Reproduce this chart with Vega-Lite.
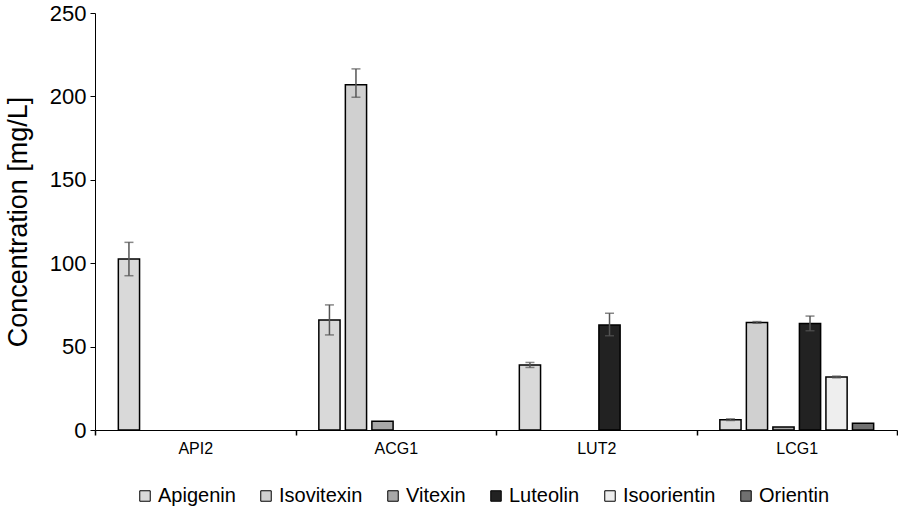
{
  "$schema": "https://vega.github.io/schema/vega-lite/v6.json",
  "width": 802,
  "height": 417,
  "autosize": "none",
  "padding": {"left": 95, "top": 13, "right": 1, "bottom": 82},
  "background": "white",
  "config": {
    "view": {"stroke": null},
    "font": "Liberation Sans",
    "axis": {"labelFont": "Liberation Sans", "titleFont": "Liberation Sans", "labelColor": "black", "titleColor": "black", "domainColor": "black", "tickColor": "black", "grid": false},
    "legend": {"labelFont": "Liberation Sans"}
  },
  "data": {
    "values": [
      {"group": "API2", "compound": "Apigenin", "value": 102.5, "lo": 92.5, "hi": 112.5},
      {"group": "ACG1", "compound": "Apigenin", "value": 66, "lo": 57, "hi": 75},
      {"group": "ACG1", "compound": "Isovitexin", "value": 207, "lo": 199.5, "hi": 216.5},
      {"group": "ACG1", "compound": "Vitexin", "value": 5.2, "lo": null, "hi": null},
      {"group": "LUT2", "compound": "Apigenin", "value": 39, "lo": 37.5, "hi": 40.5},
      {"group": "LUT2", "compound": "Luteolin", "value": 63, "lo": 56.5, "hi": 70},
      {"group": "LCG1", "compound": "Apigenin", "value": 6.2, "lo": 5.7, "hi": 6.7},
      {"group": "LCG1", "compound": "Isovitexin", "value": 64.5, "lo": 64, "hi": 65},
      {"group": "LCG1", "compound": "Vitexin", "value": 1.8, "lo": null, "hi": null},
      {"group": "LCG1", "compound": "Luteolin", "value": 63.8, "lo": 59.5, "hi": 68.3},
      {"group": "LCG1", "compound": "Isoorientin", "value": 31.8, "lo": 31.3, "hi": 32.3},
      {"group": "LCG1", "compound": "Orientin", "value": 4, "lo": null, "hi": null}
    ]
  },
  "encoding": {
    "x": {
      "field": "group", "type": "nominal", "sort": ["API2", "ACG1", "LUT2", "LCG1"],
      "scale": {"paddingInner": 0, "paddingOuter": 0},
      "axis": {"title": null, "labelAngle": 0, "labelFontSize": 16, "labelPadding": 5, "tickBand": "extent", "tickSize": 5, "domainWidth": 1, "tickWidth": 1.5}
    },
    "xOffset": {
      "field": "compound", "type": "nominal",
      "scale": {"domain": ["Apigenin", "Isovitexin", "Vitexin", "Luteolin", "Isoorientin", "Orientin"], "paddingInner": 0.2, "paddingOuter": 0.88}
    }
  },
  "layer": [
    {
      "mark": {"type": "bar", "stroke": "black", "strokeWidth": 1.5},
      "encoding": {
        "y": {
          "field": "value", "type": "quantitative",
          "scale": {"domain": [0, 250], "nice": false},
          "axis": {"values": [0, 50, 100, 150, 200, 250], "title": "Concentration [mg/L]", "titleFontSize": 27, "titleFontWeight": "normal", "titlePadding": 17, "labelFontSize": 22, "labelPadding": 4, "tickSize": 5, "domainWidth": 1}
        },
        "color": {
          "field": "compound", "type": "nominal",
          "scale": {"domain": ["Apigenin", "Isovitexin", "Vitexin", "Luteolin", "Isoorientin", "Orientin"], "range": ["#d9d9d9", "#d0d0d0", "#a8a8a8", "#222222", "#eeeeee", "#707070"]},
          "legend": {"orient": "none", "legendX": 40, "legendY": 473, "direction": "horizontal", "title": null, "symbolType": "square", "symbolSize": 110, "symbolStrokeColor": "black", "symbolStrokeWidth": 1, "labelFontSize": 20, "labelOffset": 3, "columnPadding": 20, "labelColor": "black"}
        }
      }
    },
    {
      "transform": [{"filter": "isValid(datum.lo)"}],
      "mark": {"type": "rule", "color": "#555555", "strokeWidth": 1.5},
      "encoding": {"y": {"field": "lo", "type": "quantitative"}, "y2": {"field": "hi"}}
    },
    {
      "transform": [{"filter": "isValid(datum.lo)"}],
      "mark": {"type": "tick", "color": "#555555", "thickness": 1.5, "size": 9},
      "encoding": {"y": {"field": "lo", "type": "quantitative"}}
    },
    {
      "transform": [{"filter": "isValid(datum.hi)"}],
      "mark": {"type": "tick", "color": "#555555", "thickness": 1.5, "size": 9},
      "encoding": {"y": {"field": "hi", "type": "quantitative"}}
    }
  ]
}
